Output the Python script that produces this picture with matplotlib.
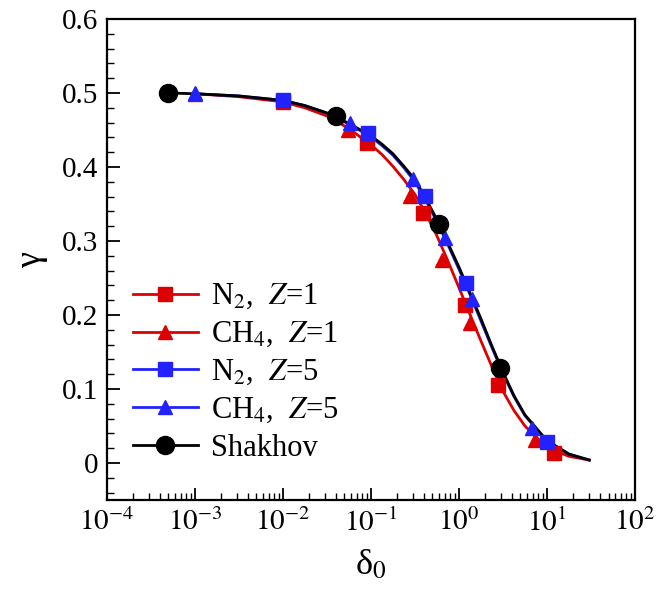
import numpy as np
import matplotlib
matplotlib.use('Agg')
import matplotlib.pyplot as plt
from matplotlib.ticker import FixedLocator, LogLocator, MultipleLocator, FuncFormatter, NullFormatter

plt.rcParams['font.family'] = ['Liberation Serif', 'DejaVu Serif']
plt.rcParams['mathtext.fontset'] = 'stix'

# markers
n2_z1_x = [0.01, 0.09, 0.39, 1.18, 2.8, 11.9]
n2_z1_y = [0.488, 0.433, 0.338, 0.214, 0.105, 0.013]
ch4_z1_x = [0.001, 0.055, 0.28, 0.64, 1.33, 7.4]
ch4_z1_y = [0.499, 0.45, 0.361, 0.275, 0.189, 0.031]
n2_z5_x = [0.01, 0.092, 0.41, 1.21, 10.0]
n2_z5_y = [0.49, 0.446, 0.361, 0.243, 0.0285]
ch4_z5_x = [0.001, 0.058, 0.3, 0.7, 1.4, 6.8]
ch4_z5_y = [0.50, 0.46, 0.384, 0.3045, 0.221, 0.047]
shakhov_x = [5e-4, 0.04, 0.59, 2.95]
shakhov_y = [0.50, 0.4695, 0.3225, 0.128]

# curves (log10 of delta0)
curve_logx = [-3.3, -3.0, -2.5, -2.0, -1.75, -1.5, -1.25, -1.0, -0.875, -0.75,
              -0.625, -0.5, -0.375, -0.25, -0.125, 0.0, 0.125, 0.25, 0.375,
              0.5, 0.625, 0.75, 1.0, 1.25, 1.48]
red_line = [0.500, 0.499, 0.495, 0.488, 0.480, 0.469, 0.452, 0.430, 0.417, 0.401,
            0.383, 0.363, 0.337, 0.307, 0.273, 0.237, 0.201, 0.165, 0.130,
            0.097, 0.071, 0.050, 0.021, 0.009, 0.004]
blue_line = [0.500, 0.499, 0.496, 0.490, 0.483, 0.473, 0.458, 0.441, 0.429, 0.416,
             0.399, 0.380, 0.355, 0.326, 0.295, 0.262, 0.228, 0.192, 0.156,
             0.121, 0.090, 0.064, 0.030, 0.012, 0.004]
black_line = [0.500, 0.499, 0.496, 0.490, 0.483, 0.473, 0.459, 0.442, 0.431, 0.418,
              0.401, 0.383, 0.357, 0.329, 0.297, 0.265, 0.230, 0.195, 0.158,
              0.123, 0.091, 0.065, 0.030, 0.012, 0.004]

red = '#dd0000'
blue = '#2222ff'

fig = plt.figure(figsize=(6.56, 5.92), dpi=100)
ax = fig.add_axes([0.1627, 0.1554, 0.8053, 0.8125])

cx = 10 ** np.array(curve_logx)
ax.plot(cx[1:], red_line[1:], color=red, lw=2, zorder=2)
ax.plot(cx[1:], blue_line[1:], color=blue, lw=2, zorder=2)
ax.plot(cx, black_line, color='black', lw=2, zorder=3)

ms = 10
ax.plot(n2_z1_x, n2_z1_y, 's', color=red, ms=ms, zorder=4)
ax.plot(ch4_z1_x, ch4_z1_y, '^', color=red, ms=ms, zorder=4)
ax.plot(n2_z5_x, n2_z5_y, 's', color=blue, ms=ms, zorder=5)
ax.plot(ch4_z5_x, ch4_z5_y, '^', color=blue, ms=ms, zorder=5)
ax.plot(shakhov_x, shakhov_y, 'o', color='black', ms=13, zorder=6)

# legend handles
h1, = ax.plot([], [], '-s', color=red, lw=2, ms=ms)
h2, = ax.plot([], [], '-^', color=red, lw=2, ms=ms)
h3, = ax.plot([], [], '-s', color=blue, lw=2, ms=ms)
h4, = ax.plot([], [], '-^', color=blue, lw=2, ms=ms)
h5, = ax.plot([], [], '-o', color='black', lw=2, ms=13)
ax.legend([h1, h2, h3, h4, h5],
          ['N$_2$,  $Z$=1', 'CH$_4$,  $Z$=1', 'N$_2$,  $Z$=5', 'CH$_4$,  $Z$=5', 'Shakhov'],
          loc='lower left', bbox_to_anchor=(0.01, 0.033), frameon=False,
          fontsize=22, handlelength=2.1, handletextpad=0.45, labelspacing=0.28,
          borderaxespad=0.3)

ax.set_xscale('log')
ax.set_xlim(1e-4, 1e2)
ax.set_ylim(-0.05, 0.6)
ax.xaxis.set_major_locator(FixedLocator([1e-4, 1e-3, 1e-2, 1e-1, 1e0, 1e1, 1e2]))
ax.xaxis.set_minor_locator(LogLocator(base=10, subs=np.arange(2, 10), numticks=20))
ax.xaxis.set_minor_formatter(NullFormatter())
ax.xaxis.set_major_formatter(FuncFormatter(lambda v, p: '$10^{%d}$' % round(np.log10(v))))
ax.yaxis.set_major_locator(MultipleLocator(0.1))
ax.yaxis.set_minor_locator(MultipleLocator(0.02))
ax.yaxis.set_major_formatter(FuncFormatter(lambda v, p: '%g' % round(v, 2)))

ax.tick_params(which='both', direction='in', top=False, right=False, labelsize=21)
ax.tick_params(which='major', length=9, width=1.3, pad=6)
ax.tick_params(which='minor', length=5, width=1.0)
for s in ax.spines.values():
    s.set_linewidth(1.6)

ax.set_xlabel('δ$_0$', fontsize=26, labelpad=9)
ax.set_ylabel('γ', fontsize=26, labelpad=10)

fig.savefig('out.png', dpi=100)
